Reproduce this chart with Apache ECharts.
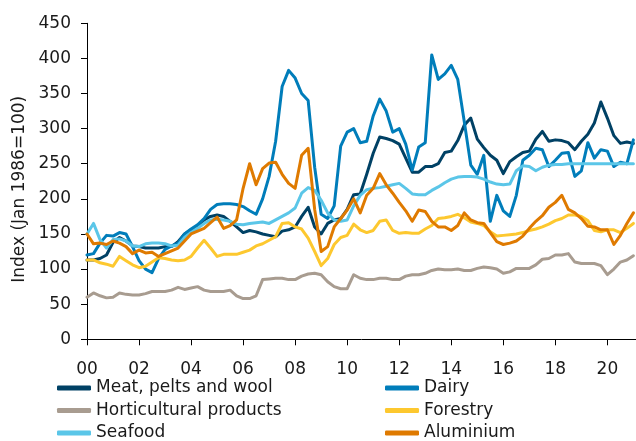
<!DOCTYPE html>
<html><head><meta charset="utf-8">
<script src="https://cdn.jsdelivr.net/npm/echarts@6/dist/echarts.min.js"></script>
<style>html,body{margin:0;padding:0;background:#fff}#c{width:636px;height:441px}</style>
</head><body><div id="c"></div>
<script>
// Quarterly readings, 2000 Q1 .. 2021 Q1
const meat = [
113,113,115,120, 138,145,140,133, 132,130,130,130, 132,132,139,150,
156,160,170,175, 177,175,168,160, 152,155,153,150, 148,146,154,156,
160,175,188,160, 150,165,170,172,
185,206,207,235, 265,288,286,283, 278,258,238,238, 246,246,250,266,
268,283,305,315, 285,273,262,255, 236,253,260,266, 268,285,296,282,
284,283,280,270, 282,292,308,338, 315,290,279,281, 279];
const dairy = [
120,122,137,148, 147,152,150,132, 112,100,95,115, 128,133,137,150,
157,163,172,185, 192,193,193,192, 189,183,178,200, 232,282,360,383,
372,350,340,245, 178,172,190,275,
295,300,280,282, 318,342,325,295, 300,278,241,274, 280,405,370,378,
390,370,310,248, 235,262,168,205, 183,175,205,255, 262,272,270,246,
255,265,266,232, 240,280,258,270, 268,246,252,250, 284];
const horticulture = [
60,66,62,59, 60,66,64,63, 63,65,68,68, 68,70,74,71,
73,75,70,68, 68,68,70,62, 58,58,62,85, 86,87,87,85,
85,90,93,94, 92,82,75,72,
72,92,87,85, 85,87,87,85, 85,90,92,92, 94,98,100,99,
99,100,98,98, 101,103,102,100, 94,96,101,101, 101,106,114,115,
120,120,122,110, 108,108,108,105, 92,100,110,113, 119];
const forestry = [
113,113,109,107, 104,118,112,106, 102,104,110,116, 115,113,112,113,
118,130,141,130, 118,121,121,121, 124,127,133,136, 141,146,165,166,
160,157,144,125, 105,115,135,145,
148,164,156,152, 155,168,170,155, 151,152,151,151, 157,162,172,173,
175,178,173,167, 165,162,153,147, 148,149,150,152, 155,157,160,164,
169,172,177,177, 175,169,155,153, 156,156,152,158, 165];
const seafood = [
150,165,142,130, 142,143,140,133, 132,136,137,137, 136,133,134,145,
152,158,165,170, 171,170,168,164, 163,165,166,167, 165,170,175,180,
187,208,216,212, 198,180,170,168,
170,190,205,213, 215,216,218,220, 222,215,207,206, 206,212,217,223,
228,231,232,232, 231,228,224,221, 220,221,240,247, 246,240,245,248,
249,249,250,250, 250,250,250,250, 250,250,250,250, 250];
const aluminium = [
150,136,137,135, 140,137,132,122, 127,123,124,118, 122,126,130,140,
150,154,158,166, 174,158,162,170, 215,250,220,243, 251,252,235,222,
215,262,272,185, 125,132,160,172,
184,200,180,205, 215,236,220,208, 195,183,168,184, 182,168,160,160,
155,162,180,170, 166,165,152,139, 135,137,140,147, 158,168,176,188,
195,205,185,180, 172,161,160,156, 156,135,148,165, 180];

const names = ['Meat, pelts and wool','Dairy','Horticultural products','Forestry','Seafood','Aluminium'];
const colors = ['#004165','#007dba','#a89c90','#fdc82f','#5bc6e8','#df7a00'];
const values = [meat, dairy, horticulture, forestry, seafood, aluminium];
const quarterTime = meat.map((_, i) => 2000 + i / 4);

const font = 'DejaVu Sans';
const txt = '#1a1a1a';

// legend slots: [left, top] for each series (two columns, three rows)
const legendLeft = [57, 385, 57, 385, 57, 385];
const legendTop = [379.5, 379.5, 402, 402, 424.5, 424.5];

const chart = echarts.init(document.getElementById('c'), null, {renderer: 'canvas'});
chart.setOption({
  animation: false,
  backgroundColor: '#fff',
  grid: {left: 87, right: 0, top: 23.3, bottom: 101.7, containLabel: false},
  xAxis: {
    type: 'value', min: 2000, max: 2021.1, interval: 2,
    axisLine: {show: true, lineStyle: {color: '#000', width: 1}},
    axisTick: {show: true, length: 6, lineStyle: {color: '#000'}},
    splitLine: {show: false},
    axisLabel: {
      margin: 22, color: txt, fontFamily: font, fontSize: 17,
      showMaxLabel: false,
      formatter: function (v) {
        const r = Math.round(v);
        if (Math.abs(v - r) > 1e-6 || r % 2) return '';
        return String(r - 2000).padStart(2, '0');
      }
    }
  },
  yAxis: {
    type: 'value', min: 0, max: 450, interval: 50,
    name: 'Index (Jan 1986=100)', nameLocation: 'middle', nameGap: 58, nameRotate: 90,
    nameTextStyle: {fontFamily: font, fontSize: 17, color: txt, padding: [0, 16, 0, 0]},
    axisLine: {show: true, lineStyle: {color: '#000', width: 1}},
    axisTick: {show: true, length: 6, lineStyle: {color: '#000'}},
    splitLine: {show: false},
    axisLabel: {margin: 16, color: txt, fontFamily: font, fontSize: 17}
  },
  legend: names.map((n, k) => ({
    data: [n], left: legendLeft[k], top: legendTop[k], padding: 0,
    itemWidth: 34, itemHeight: 5, icon: 'roundRect',
    textStyle: {fontFamily: font, fontSize: 17, color: txt, lineHeight: 17}
  })),
  series: names.map((n, k) => ({
    name: n, type: 'line', symbol: 'none', smooth: false,
    color: colors[k],
    lineStyle: {width: 3, color: colors[k], cap: 'round', join: 'round'},
    data: values[k].map((v, i) => [quarterTime[i], v])
  }))
});
</script></body></html>
